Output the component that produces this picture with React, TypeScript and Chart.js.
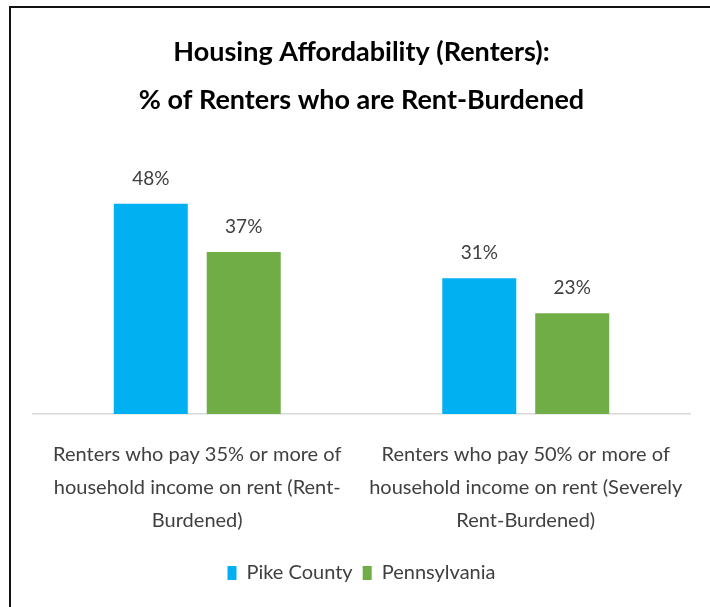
import React, { useEffect, useRef } from "react";
import { Chart, registerables } from "chart.js";

Chart.register(...registerables);

const categories: string[][] = [
  ["Renters who pay 35% or more of", "household income on rent (Rent-", "Burdened)"],
  ["Renters who pay 50% or more of", "household income on rent (Severely", "Rent-Burdened)"],
];
const seriesNames = ["Pike County", "Pennsylvania"];
const pikeCounty = [48, 31];
const pennsylvania = [37, 23];
const titleLines = ["Housing Affordability (Renters):", "% of Renters who are Rent-Burdened"];

const FONT = "Lato, 'Open Sans', sans-serif";

const borderPlugin = {
  id: "frameBorder",
  beforeDraw(chart: any) {
    const ctx = chart.ctx;
    ctx.save();
    ctx.fillStyle = "#ffffff";
    ctx.fillRect(0, 0, chart.width, chart.height);
    ctx.fillStyle = "#111111";
    ctx.fillRect(9, 6, chart.width - 9, 2);
    ctx.fillRect(9, 6, 2, chart.height - 6);
    ctx.restore();
  },
};

const labelPlugin = {
  id: "barLabels",
  afterDatasetsDraw(chart: any) {
    const ctx = chart.ctx;
    ctx.save();
    ctx.font = `19px ${FONT}`;
    ctx.fillStyle = "#404040";
    ctx.textAlign = "center";
    ctx.textBaseline = "middle";
    chart.data.datasets.forEach((ds: any, di: number) => {
      const meta = chart.getDatasetMeta(di);
      meta.data.forEach((bar: any, i: number) => {
        ctx.fillText(`${ds.data[i]}%`, bar.x, bar.y - 25);
      });
    });
    ctx.restore();
  },
};

export default function App() {
  const ref = useRef<HTMLCanvasElement | null>(null);
  useEffect(() => {
    if (!ref.current) return;
    const chart = new Chart(ref.current, {
      type: "bar",
      data: {
        labels: categories,
        datasets: [
          { label: seriesNames[0], data: pikeCounty, backgroundColor: "#00B0F0", borderWidth: 0 },
          { label: seriesNames[1], data: pennsylvania, backgroundColor: "#70AD47", borderWidth: 0 },
        ],
      },
      options: {
        animation: false,
        responsive: false,
        maintainAspectRatio: false,
        layout: { padding: { left: 33, right: 20, top: 0, bottom: 14 } },
        datasets: { bar: { categoryPercentage: 0.566, barPercentage: 0.796 } },
        scales: {
          x: {
            grid: { display: false },
            border: { display: true, color: "#d9d9d9", width: 1.5 },
            ticks: {
              color: "#404040",
              font: { family: FONT, size: 20, lineHeight: 1.65 },
              padding: 16,
              maxRotation: 0,
              autoSkip: false,
            },
          },
          y: {
            display: false,
            min: 0,
            max: 60,
          },
        },
        plugins: {
          title: {
            display: true,
            text: titleLines,
            color: "#000000",
            font: { family: FONT, size: 27, weight: "bold", lineHeight: 1.78 },
            padding: { top: 28, bottom: 27 },
          },
          legend: {
            display: true,
            position: "bottom",
            labels: {
              color: "#404040",
              font: { family: FONT, size: 20 },
              boxWidth: 9,
              boxHeight: 14,
              padding: 10,
            },
          },
          tooltip: { enabled: false },
        },
      },
      plugins: [borderPlugin, labelPlugin],
    });
    return () => chart.destroy();
  }, []);
  return (
    <div style={{ position: "absolute", left: 0, top: 0, width: 710, height: 607 }}>
      <canvas ref={ref} width={710} height={607} style={{ display: "block", width: 710, height: 607 }} />
    </div>
  );
}
